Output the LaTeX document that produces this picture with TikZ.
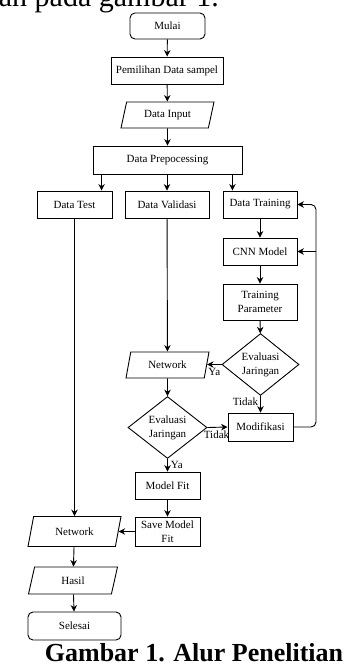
\documentclass[tikz,border=0pt]{standalone}
\usepackage{fontspec}
\setmainfont{Liberation Serif}
\usetikzlibrary{shapes.geometric,arrows.meta}
\begin{document}
\begin{tikzpicture}[x=1pt,y=-1pt,
		every node/.style={font=\fontsize{11}{14}\selectfont,inner sep=1pt},
		proses/.style={draw,rectangle,align=center,minimum height=27,line width=0.9pt},
		ujung/.style={draw,rectangle,rounded corners=5,minimum height=27,line width=0.9pt},
		io/.style={draw,trapezium,trapezium left angle=#1,trapezium right angle=180-#1,trapezium stretches body,minimum height=27,line width=0.9pt},
		cek/.style={draw,diamond,align=center,inner sep=0pt,minimum width=78,minimum height=53,line width=0.9pt},
		arr/.style={-{Stealth[length=6.5pt,width=6.5pt]},line width=0.9pt},
		lbl/.style={font=\fontsize{11}{13}\selectfont,inner sep=1pt}]
			\clip (0,0) rectangle (344,671);
			\useasboundingbox (0,0) rectangle (344,671);
			\node[anchor=base east,font=\fontsize{30}{32}\selectfont] (atas) at (220,6.5) {an pada gambar 1.};
			\node[ujung,minimum width=75,minimum height=26] (mulai) at (167.5,26) {Mulai};
			\node[proses,minimum width=112] (pilih) at (167,70.5) {Pemilihan Data sampel};
			\node[io=64,minimum width=93,minimum height=26] (input) at (167.5,115) {Data Input};
			\node[proses,minimum width=149,minimum height=28] (prep) at (167.5,160) {Data Prepocessing};
			\node[proses,minimum width=75] (test) at (74.5,204.5) {Data Test};
			\node[proses,minimum width=84] (valid) at (167,204.5) {Data Validasi};
			\node[proses,minimum width=74] (train) at (260,204.5) {Data Training};
			\node[proses,minimum width=74] (cnn) at (260,251.5) {CNN Model};
			\node[proses,minimum width=74,minimum height=36] (param) at (260,302) {Training\\Parameter};
			\node[cek,minimum width=77] (eval1) at (260.5,364.5) {Evaluasi\\Jaringan};
			\node[io=64,minimum width=83,minimum height=26] (net1) at (167.5,365) {Network};
			\node[proses,minimum width=65,minimum height=28] (modif) at (260.5,427) {Modifikasi};
			\node[cek,minimum width=79] (eval2) at (167.5,427.5) {Evaluasi\\Jaringan};
			\node[proses,minimum width=65] (fit) at (167.5,485.5) {Model Fit};
			\node[proses,minimum width=65,minimum height=29] (save) at (167.5,531.5) {Save Model\\Fit};
			\node[io=60,minimum width=93,minimum height=30] (net2) at (74.5,531.5) {Network};
			\node[io=58,minimum width=89,minimum height=27] (hasil) at (73,580.5) {Hasil};
			\node[ujung,minimum width=93,minimum height=28] (selesai) at (74.5,626) {Selesai};
			\node[anchor=base,font=\bfseries\fontsize{26}{28}\selectfont] (judul) at (194,661) {Gambar 1. Alur Penelitian};
			\coordinate (balik) at (316,0);
			\draw[arr] (mulai) -- (pilih);
			\draw[arr] (pilih) -- (input);
			\draw[arr] (input) -- (prep);
			\draw[arr] ([xshift=9]prep.south west) -- ([xshift=9]prep.south west |- test.north);
			\draw[arr] (prep.south -| valid.north) -- (valid.north);
			\draw[arr] ([xshift=-10]prep.south east) -- ([xshift=-10]prep.south east |- train.north);
			\draw[arr] (train) -- (cnn);
			\draw[arr] (cnn) -- (param);
			\draw[arr] (param) -- (eval1);
			\draw[arr] (eval1.west) -- (eval1.west -| net1.east) node[lbl,pos=0.5,below=2pt] {Ya};
			\draw[arr] (eval1) -- (modif) node[lbl,pos=0.38,left=1pt] {Tidak};
			\draw[arr,rounded corners=5] (modif.east) -- (modif.east -| balik) -- (train.east -| balik) -- (train.east);
			\draw[arr] (cnn.east -| balik) -- (cnn.east);
			\draw[arr] (valid) -- (net1);
			\draw[arr] (net1) -- (eval2);
			\draw[arr] (eval2.east) -- (modif.west) node[lbl,pos=0.45,below=2pt] {Tidak};
			\draw[arr] (eval2) -- (fit) node[lbl,pos=0.5,right=2pt] {Ya};
			\draw[arr] (fit) -- (save);
			\draw[arr] (save.west) -- (save.west -| net2.east);
			\draw[arr] (test.south) -- (test.south |- net2.north);
			\draw[arr] (net2) -- (hasil);
			\draw[arr] (hasil) -- (selesai);
\end{tikzpicture}
\end{document}
